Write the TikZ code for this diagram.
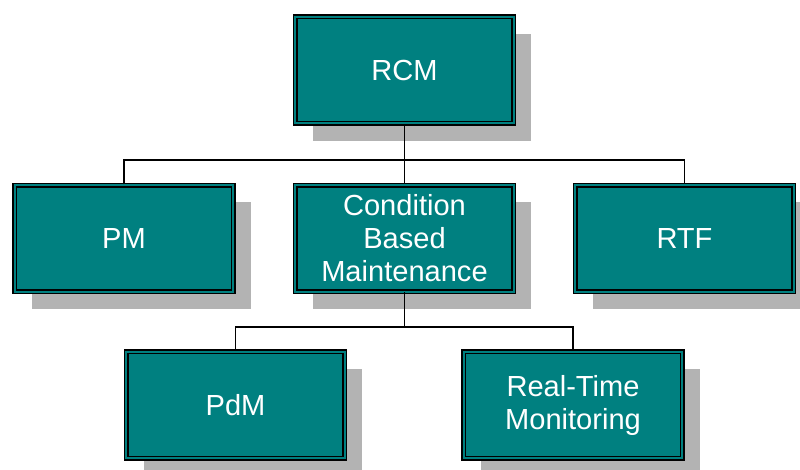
\documentclass[tikz,border=0pt]{standalone}
\usepackage{fontspec}
\setmainfont{Liberation Sans}
\usetikzlibrary{shadows}
\definecolor{boxteal}{HTML}{008080}
\definecolor{shadowgrey}{HTML}{B3B3B3}
\tikzset{orgbox/.style={draw=black,double=boxteal,double distance=1.6pt,line width=1pt,
    fill=boxteal,text=white,align=center,minimum width=164pt,minimum height=80pt,inner sep=2pt,
    font=\fontsize{21.8}{24.75}\selectfont,
    drop shadow={shadow xshift=13pt,shadow yshift=-13pt,fill=shadowgrey,opacity=1}},
  link/.style={draw=black,line width=1.2pt}}

\begin{document}
\begin{tikzpicture}[x=0.75pt,y=-0.75pt]
\useasboundingbox (0,0) rectangle (800,470);
% top level
\node[orgbox] (rcm) at (404.5,70) {RCM};
% second level
\node[orgbox] (pm) at (124,238.5) {PM};
\node[orgbox] (cbm) at (404.5,238.5) {Condition\\Based\\Maintenance};
\node[orgbox] (rtf) at (684.5,238.5) {RTF};
% third level
\node[orgbox] (pdm) at (235.5,405) {PdM};
\node[orgbox] (rtm) at (573,405) {Real-Time\\Monitoring};
% bus lines
\coordinate (upper bus) at (404.5,160);
\coordinate (lower bus) at (404.5,327);
\draw[link] (rcm.south) -- (upper bus);
\draw[link] (pm.north) |- (upper bus) -| (rtf.north);
\draw[link] (upper bus) -- (cbm.north);
\draw[link] (cbm.south) -- (lower bus);
\draw[link] (pdm.north) |- (lower bus) -| (rtm.north);
\end{tikzpicture}
\end{document}
